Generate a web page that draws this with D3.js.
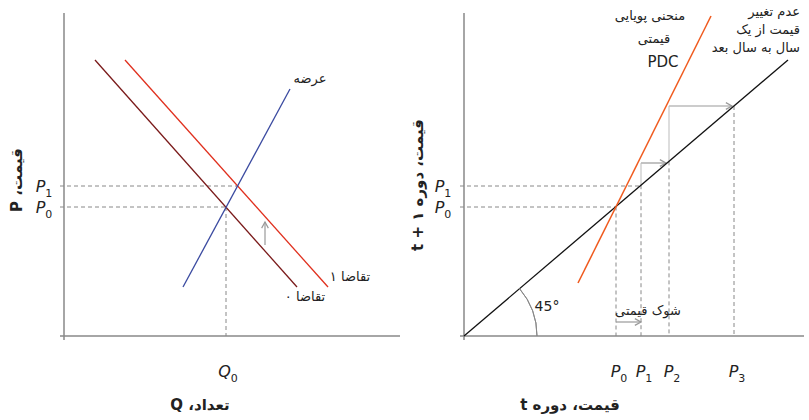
<!DOCTYPE html>
<html><head><meta charset="utf-8">
<script src="https://cdn.jsdelivr.net/npm/d3@7"></script>
<style>body{margin:0;background:#fff}text{font-family:"DejaVu Sans",sans-serif;fill:#222}</style>
</head><body><svg id="c" width="809" height="420"></svg>
<script>
// left panel data (units: quantity / price, origin at axes corner)
const demand0 = [[31, 276], [233, 49]];
const demand1 = [[61, 276], [264, 49]];
const supply = [[119, 49], [226, 247]];
const leftP = {P0: 129, P1: 150};
const leftQ0 = 162;
// right panel data
const noChange = [[0, 0], [324, 276]];
const pdc = [[114, 53], [247, 320]];
const rightP = [152, 177, 205, 270];   // P0..P3 on x axis
const stepY = [173, 230];

const svg = d3.select("#c");
const grey = "#888";

function panel(x0, width) {
  const x = d3.scaleLinear().domain([0, 336]).range([x0, x0 + 336]);
  const y = d3.scaleLinear().domain([0, 323]).range([336, 13]);
  const g = svg.append("g");
  g.append("line").attr("x1", x0).attr("x2", x0).attr("y1", 13).attr("y2", 340).attr("stroke", grey).attr("stroke-width", 1.5);
  g.append("line").attr("x1", x0 - 4).attr("x2", x0 + width).attr("y1", 336).attr("y2", 336).attr("stroke", grey).attr("stroke-width", 1.5);
  return {x, y, g};
}
const line = (g, sc, pts, col, w) => g.append("line")
  .attr("x1", sc.x(pts[0][0])).attr("y1", sc.y(pts[0][1]))
  .attr("x2", sc.x(pts[1][0])).attr("y2", sc.y(pts[1][1]))
  .attr("stroke", col).attr("stroke-width", w || 1.3).attr("fill", "none");
const dash = (g, x1, y1, x2, y2) => g.append("line").attr("x1", x1).attr("y1", y1).attr("x2", x2).attr("y2", y2)
  .attr("stroke", grey).attr("stroke-width", 1).attr("stroke-dasharray", "4,3");
const arrow = (g, x1, y1, x2, y2) => {
  g.append("line").attr("x1", x1).attr("y1", y1).attr("x2", x2).attr("y2", y2).attr("stroke", "#999").attr("stroke-width", 1.2);
  const a = Math.atan2(y2 - y1, x2 - x1);
  const p = [[x2 - 7 * Math.cos(a - 0.5), y2 - 7 * Math.sin(a - 0.5)], [x2, y2], [x2 - 7 * Math.cos(a + 0.5), y2 - 7 * Math.sin(a + 0.5)]];
  g.append("path").attr("d", d3.line()(p)).attr("stroke", "#999").attr("stroke-width", 1.2).attr("fill", "none");
};
const text = (g, x, y, s, o) => {
  o = o || {};
  const t = g.append("text").attr("x", x).attr("y", y).attr("font-size", o.size || 13)
    .attr("text-anchor", o.anchor || "middle").attr("font-weight", o.bold ? "bold" : null)
    .attr("direction", o.ltr ? null : "rtl").text(s);
  if (o.rot) t.attr("transform", `rotate(-90,${x},${y})`);
  return t;
};
const sub = (g, x, y, base, idx, anchor) => {
  const t = g.append("text").attr("x", x).attr("y", y).attr("font-size", 16).attr("text-anchor", anchor || "middle");
  t.append("tspan").attr("font-style", "italic").text(base);
  t.append("tspan").attr("font-size", 11).attr("dy", 5).text(idx);
};

// ---- left
const L = panel(64, 336);
dash(L.g, 60, L.y(leftP.P1), L.x(supply[0][0] + 107 * (leftP.P1 - 49) / 198), L.y(leftP.P1));
dash(L.g, 60, L.y(leftP.P0), L.x(leftQ0), L.y(leftP.P0));
dash(L.g, L.x(leftQ0), L.y(leftP.P0), L.x(leftQ0), 336);
line(L.g, L, demand0, "#7a1a1a");
line(L.g, L, demand1, "#e0301e");
line(L.g, L, supply, "#3a4aa0");
arrow(L.g, 265, 245, 265, 222);
text(L.g, 310, 83, "عرضه");
text(L.g, 350, 281, "تقاضا ۱");
text(L.g, 305, 301, "تقاضا ۰");
sub(L.g, 44, 192, "P", "1");
sub(L.g, 44, 213, "P", "0");
sub(L.g, 228, 377, "Q", "0");
text(L.g, 200, 410, "تعداد، Q", {size: 15, bold: true});
text(L.g, 22, 180, "قیمت، P", {size: 15, bold: true, rot: true});

// ---- right
const R = panel(464, 340);
const diagY = v => v * 276 / 324;
dash(R.g, 460, L.y(leftP.P1), R.x(rightP[1]), L.y(leftP.P1));
dash(R.g, 460, L.y(leftP.P0), R.x(rightP[0]), L.y(leftP.P0));
rightP.forEach(p => dash(R.g, R.x(p), R.y(diagY(p)), R.x(p), 336));
// cobweb steps
arrow(R.g, R.x(rightP[1]), R.y(stepY[0]), R.x(rightP[2]) - 3, R.y(stepY[0]));
R.g.append("line").attr("x1", R.x(rightP[1])).attr("x2", R.x(rightP[1])).attr("y1", R.y(stepY[0])).attr("y2", R.y(diagY(rightP[1]))).attr("stroke", "#bbb");
arrow(R.g, R.x(rightP[2]), R.y(stepY[1]), R.x(rightP[3]) - 2, R.y(stepY[1]));
R.g.append("line").attr("x1", R.x(rightP[2])).attr("x2", R.x(rightP[2])).attr("y1", R.y(stepY[1])).attr("y2", R.y(diagY(rightP[2]))).attr("stroke", "#bbb");
arrow(R.g, R.x(rightP[0]), 322, R.x(rightP[1]), 322);
line(R.g, R, noChange, "#111");
line(R.g, R, pdc, "#f05a1e", 1.5);
const ang = Math.atan2(276, 324);
R.g.append("path").attr("d", d3.arc()({innerRadius: 73, outerRadius: 73, startAngle: Math.PI / 2 - ang, endAngle: Math.PI / 2}))
  .attr("transform", "translate(464,336)").attr("stroke", grey).attr("fill", "none");
text(R.g, 547, 311, "45°", {size: 14, ltr: true});
text(R.g, 648, 315, "شوک قیمتی");
text(R.g, 650, 20, "منحنی پویایی");
text(R.g, 654, 43, "قیمتی");
text(R.g, 663, 67, "PDC", {size: 15, ltr: true});
["عدم تغییر", "قیمت از یک", "سال به سال بعد"].forEach((s, i) => text(R.g, 800, 16 + i * 18, s, {anchor: "start"}));
sub(R.g, 443, 192, "P", "1");
sub(R.g, 443, 213, "P", "0");
["0", "1", "2", "3"].forEach((s, i) => sub(R.g, R.x(rightP[i]) + 3, 377, "P", s));
text(R.g, 570, 410, "قیمت، دوره t", {size: 15, bold: true});
text(R.g, 423, 185, "قیمت، دوره ۱ + t", {size: 15, bold: true, rot: true});
</script></body></html>
